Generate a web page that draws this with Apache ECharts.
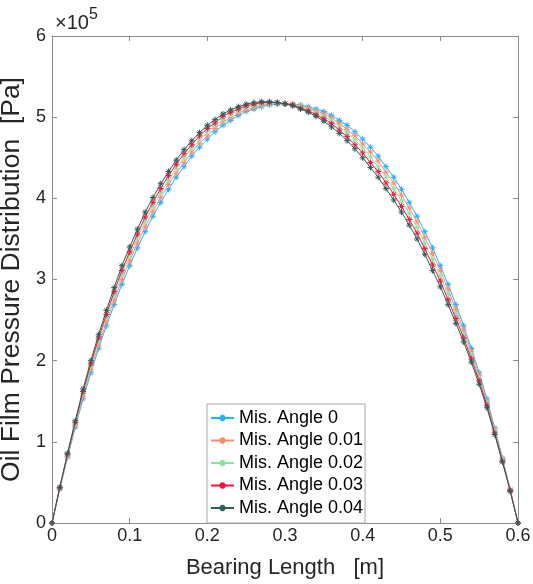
<!DOCTYPE html>
<html>
<head>
<meta charset="utf-8">
<script src="https://cdn.jsdelivr.net/npm/echarts@6/dist/echarts.min.js"></script>
<style>
html,body{margin:0;padding:0;background:#fff;}
#chart{width:533px;height:584px;}
</style>
</head>
<body>
<div id="chart"></div>
<script>
// Bearing length positions [m]
const bearingLength = [0,0.01,0.02,0.03,0.04,0.05,0.06,0.07,0.08,0.09,0.10,0.11,0.12,0.13,0.14,0.15,0.16,0.17,0.18,0.19,0.20,0.21,0.22,0.23,0.24,0.25,0.26,0.27,0.28,0.29,0.30,0.31,0.32,0.33,0.34,0.35,0.36,0.37,0.38,0.39,0.40,0.41,0.42,0.43,0.44,0.45,0.46,0.47,0.48,0.49,0.50,0.51,0.52,0.53,0.54,0.55,0.56,0.57,0.58,0.59,0.60];

// Oil film pressure in units of 1e5 Pa
const angle0 = [0,0.42,0.81,1.18,1.53,1.85,2.15,2.43,2.69,2.94,3.17,3.39,3.59,3.78,3.95,4.11,4.26,4.39,4.52,4.63,4.73,4.82,4.90,4.96,5.02,5.07,5.10,5.13,5.15,5.16,5.165,5.16,5.15,5.13,5.10,5.07,5.02,4.96,4.90,4.82,4.73,4.63,4.52,4.39,4.26,4.11,3.95,3.78,3.59,3.39,3.17,2.94,2.69,2.43,2.15,1.85,1.53,1.17,0.80,0.41,0];
const angle001 = [0,0.425,0.82,1.20,1.56,1.89,2.19,2.48,2.74,3.00,3.23,3.45,3.65,3.84,4.01,4.17,4.31,4.44,4.57,4.68,4.77,4.86,4.94,4.99,5.05,5.09,5.12,5.15,5.16,5.17,5.165,5.16,5.14,5.11,5.08,5.04,4.99,4.92,4.85,4.77,4.67,4.57,4.46,4.32,4.19,4.04,3.88,3.71,3.52,3.32,3.11,2.88,2.63,2.38,2.11,1.82,1.50,1.15,0.79,0.41,0];
const angle002 = [0,0.43,0.84,1.22,1.59,1.93,2.24,2.53,2.80,3.06,3.29,3.51,3.71,3.90,4.07,4.22,4.37,4.50,4.62,4.72,4.82,4.90,4.97,5.03,5.08,5.12,5.14,5.16,5.17,5.17,5.165,5.15,5.13,5.10,5.06,5.01,4.95,4.88,4.81,4.72,4.62,4.51,4.39,4.26,4.12,3.97,3.81,3.64,3.45,3.25,3.04,2.82,2.58,2.33,2.07,1.78,1.48,1.13,0.78,0.40,0];
const angle003 = [0,0.435,0.85,1.24,1.62,1.96,2.28,2.57,2.85,3.11,3.34,3.56,3.77,3.95,4.12,4.28,4.42,4.55,4.66,4.77,4.86,4.93,5.01,5.06,5.10,5.14,5.16,5.18,5.18,5.18,5.165,5.15,5.11,5.08,5.03,4.98,4.92,4.84,4.76,4.66,4.56,4.44,4.33,4.19,4.05,3.90,3.74,3.57,3.38,3.18,2.98,2.75,2.52,2.28,2.02,1.75,1.45,1.11,0.76,0.40,0];
const angle004 = [0,0.44,0.86,1.26,1.65,2.00,2.32,2.62,2.90,3.17,3.40,3.62,3.83,4.01,4.18,4.33,4.47,4.60,4.71,4.81,4.90,4.97,5.04,5.09,5.13,5.16,5.18,5.19,5.19,5.18,5.165,5.14,5.10,5.06,5.01,4.95,4.88,4.80,4.71,4.61,4.50,4.38,4.26,4.12,3.98,3.83,3.67,3.50,3.31,3.11,2.91,2.69,2.46,2.23,1.98,1.71,1.42,1.09,0.75,0.39,0];

const seriesNames = ['Mis. Angle 0','Mis. Angle 0.01','Mis. Angle 0.02','Mis. Angle 0.03','Mis. Angle 0.04'];
const seriesData = [angle0, angle001, angle002, angle003, angle004];
const seriesColors = ['#22B1FF','#FF8A6E','#8FE0A8','#F21440','#2E5D58'];

const xTicks = [0,0.1,0.2,0.3,0.4,0.5,0.6];
const yTicks = [0,1,2,3,4,5,6];

const FONT = 'Liberation Sans, Arial, Helvetica, sans-serif';
const AX = '#8c8c8c';
const TXT = '#262626';
const asterisk = 'path://M5,0L5,10M0,5L10,5M1.6,1.6L8.4,8.4M8.4,1.6L1.6,8.4';

const chart = echarts.init(document.getElementById('chart'), null, {renderer:'canvas'});

const series = seriesNames.map((name, k) => ({
  name: name,
  type: 'line',
  data: bearingLength.map((x, i) => [x, seriesData[k][i]]),
  symbol: asterisk,
  symbolSize: 6,
  showSymbol: true,
  lineStyle: {width: 1, color: seriesColors[k]},
  itemStyle: {color: seriesColors[k], borderColor: seriesColors[k], borderWidth: 1},
  emphasis: {disabled: true},
  z: 2 + k
}));

const commonAxisLine = {show: true, onZero: false, lineStyle: {color: AX, width: 1}};
const commonTick = {show: true, inside: true, length: 5, lineStyle: {color: AX, width: 1}};

chart.setOption({
  animation: false,
  backgroundColor: '#fff',
  grid: {left: 52, right: 15, top: 36, bottom: 61, containLabel: false, outerBoundsMode: 'none'},
  legend: {
    orient: 'vertical',
    left: 207,
    top: 404,
    data: seriesNames,
    itemWidth: 23,
    itemHeight: 8,
    itemGap: 4.5,
    padding: [5, 2, 6, 3],
    backgroundColor: '#fff',
    borderColor: '#a8a8a8',
    borderWidth: 1,
    borderRadius: 0,
    textStyle: {fontFamily: FONT, fontSize: 18, color: '#000'}
  },
  xAxis: [{
    type: 'value', min: 0, max: 0.6, interval: 0.1,
    position: 'bottom',
    axisLine: commonAxisLine, axisTick: commonTick,
    axisLabel: {show: true, margin: 4, fontFamily: FONT, fontSize: 18, color: TXT,
      formatter: v => { const t = xTicks.find(a => Math.abs(a - v) < 1e-9); return t === undefined ? '' : String(t); }},
    splitLine: {show: false},
    name: 'Bearing Length   [m]', nameLocation: 'middle', nameGap: 34,
    nameTextStyle: {fontFamily: FONT, fontSize: 22, color: TXT}
  }, {
    type: 'value', min: 0, max: 0.6, interval: 0.1,
    position: 'top',
    axisLine: commonAxisLine, axisTick: commonTick,
    axisLabel: {show: false}, splitLine: {show: false}
  }],
  yAxis: [{
    type: 'value', min: 0, max: 6, interval: 1,
    position: 'left',
    axisLine: commonAxisLine, axisTick: commonTick,
    axisLabel: {show: true, margin: 6, fontFamily: FONT, fontSize: 18, color: TXT,
      formatter: v => { const t = yTicks.find(a => Math.abs(a - v) < 1e-9); return t === undefined ? '' : String(t); }},
    splitLine: {show: false},
    name: 'Oil Film Pressure Distribution  [Pa]', nameLocation: 'middle', nameGap: 22,
    nameTextStyle: {fontFamily: FONT, fontSize: 26.5, color: TXT}
  }, {
    type: 'value', min: 0, max: 6, interval: 1,
    position: 'right',
    axisLine: commonAxisLine, axisTick: commonTick,
    axisLabel: {show: false}, splitLine: {show: false}
  }],
  graphic: [
    {type: 'text', left: 55, top: 13, style: {text: '×10', fontFamily: FONT, fontSize: 20, fill: TXT}},
    {type: 'text', left: 89, top: 7, style: {text: '5', fontFamily: FONT, fontSize: 16, fill: TXT}}
  ],
  series: series
});
</script>
</body>
</html>
